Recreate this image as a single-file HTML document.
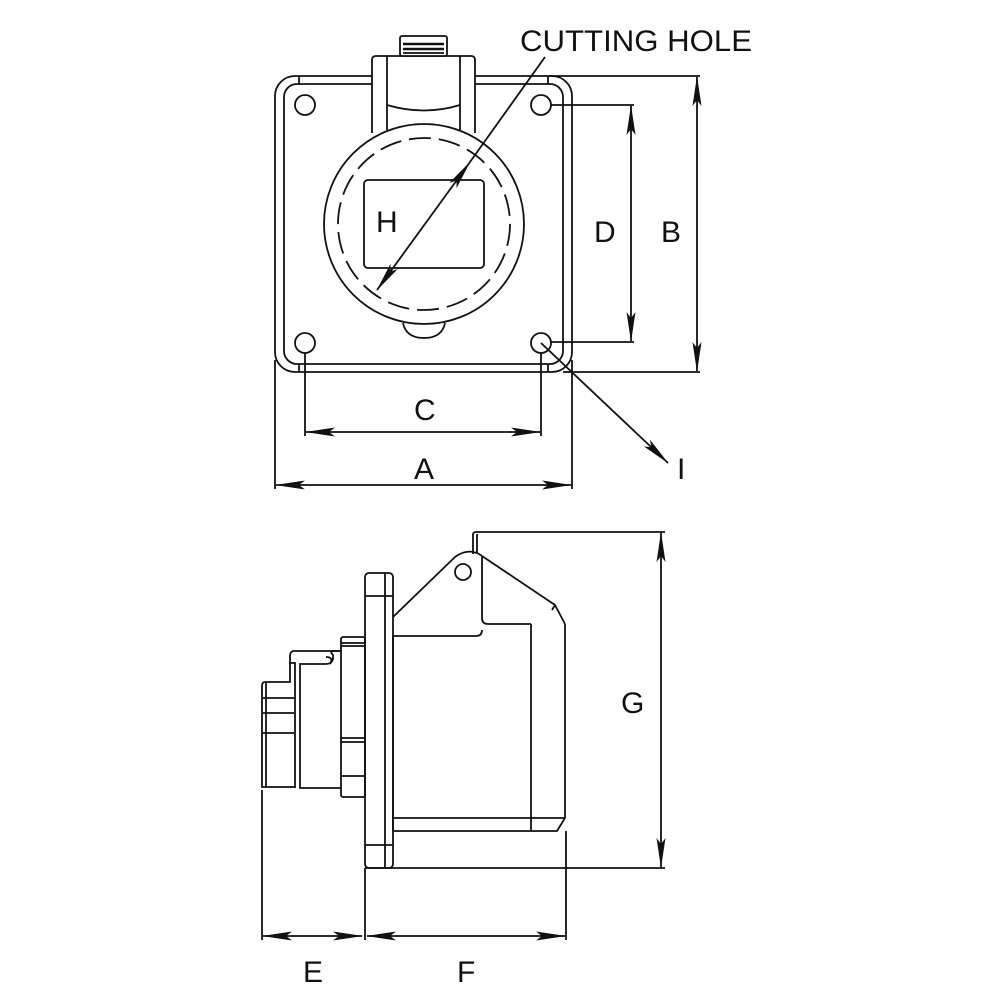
<!DOCTYPE html>
<html><head><meta charset="utf-8"><style>
html,body{margin:0;padding:0;background:#fff}
svg{display:block}
text{font-family:"Liberation Sans",sans-serif;fill:#111}
</style></head><body>
<svg width="1000" height="1000" viewBox="0 0 1000 1000" xmlns="http://www.w3.org/2000/svg">
<defs>
<marker id="ar" markerWidth="30" markerHeight="10" refX="29" refY="5" orient="auto-start-reverse" markerUnits="userSpaceOnUse">
<path d="M0,0.5 L30,5 L0,9.5 L6,5 Z" fill="#111"/>
</marker>
</defs>
<g fill="none" stroke="#111" stroke-width="1.8">
<!-- TOP VIEW -->
<rect x="275" y="76" width="297" height="296" rx="20"/>
<rect x="284" y="84" width="279" height="280" rx="13"/>
<line x1="299" y1="76" x2="299" y2="84"/><line x1="548" y1="76" x2="548" y2="84"/>
<line x1="299" y1="364" x2="299" y2="372"/><line x1="548" y1="364" x2="548" y2="372"/>
<circle cx="305" cy="105" r="10"/><circle cx="541" cy="105" r="10"/>
<circle cx="305" cy="343" r="10"/><circle cx="541" cy="343" r="10"/>
<!-- hinge housing -->
<path d="M372,133 L372,60 Q372,56 376,56 L471,56 Q475,56 475,60 L475,133 Z" fill="#fff" stroke="none"/>
<path d="M372,133 L372,60 Q372,56 376,56 L471,56 Q475,56 475,60 L475,133"/>
<line x1="387" y1="56" x2="387" y2="130"/><line x1="460" y1="56" x2="460" y2="130"/>
<path d="M387,105 Q424,116 460,105"/>
<rect x="400" y="36" width="47" height="20" rx="2" fill="#fff"/>
<line x1="403" y1="44" x2="444" y2="44" stroke-width="2.5"/>
<line x1="403" y1="49" x2="444" y2="49" stroke-width="2.5"/>
<line x1="403" y1="53" x2="444" y2="53"/>
<circle cx="424" cy="224" r="100" fill="#fff"/>
<circle cx="424" cy="224" r="86" stroke-dasharray="22,8"/>
<path d="M403,323 Q406,338 424,338 Q442,338 445,323"/>
<rect x="364" y="180" width="120" height="88" rx="4"/>
<!-- H dimension -->
<line x1="377" y1="290" x2="470" y2="162" marker-start="url(#ar)" marker-end="url(#ar)"/>
<line x1="470" y1="162" x2="545" y2="57"/>
<!-- B -->
<line x1="548" y1="76" x2="700" y2="76"/><line x1="563" y1="372" x2="700" y2="372"/>
<line x1="697" y1="77" x2="697" y2="371" marker-start="url(#ar)" marker-end="url(#ar)"/>
<!-- D -->
<line x1="551" y1="105" x2="634" y2="105"/><line x1="551" y1="342" x2="634" y2="342"/>
<line x1="631" y1="106" x2="631" y2="341" marker-start="url(#ar)" marker-end="url(#ar)"/>
<!-- C -->
<line x1="305" y1="353" x2="305" y2="436"/><line x1="541" y1="353" x2="541" y2="436"/>
<line x1="306" y1="432" x2="540" y2="432" marker-start="url(#ar)" marker-end="url(#ar)"/>
<!-- A -->
<line x1="275" y1="360" x2="275" y2="489"/><line x1="572" y1="360" x2="572" y2="489"/>
<line x1="276" y1="485" x2="571" y2="485" marker-start="url(#ar)" marker-end="url(#ar)"/>
<!-- I -->
<line x1="541" y1="343" x2="668" y2="463" marker-end="url(#ar)"/>

<!-- SIDE VIEW -->
<rect x="365" y="573" width="28" height="295" rx="4"/>
<line x1="385" y1="573" x2="385" y2="868"/>
<line x1="365" y1="596" x2="393" y2="596"/><line x1="365" y1="845" x2="393" y2="845"/>
<!-- lid -->
<path d="M393,617 L455,557 Q467,548 479,554 L555,605 L565,624"/>
<path d="M482,557 L482,618 Q482,624 488,624 L531,624"/>
<path d="M393,636 L476,636 Q482,636 482,630"/>
<line x1="555" y1="605" x2="552" y2="610"/>
<circle cx="463" cy="572" r="8"/>
<path d="M473,554 L473,535 Q473,532 476,532 L480,532"/>
<line x1="477" y1="534" x2="477" y2="553"/>
<!-- body -->
<line x1="393" y1="636" x2="393" y2="831"/>
<line x1="531" y1="624" x2="531" y2="831"/>
<line x1="565" y1="624" x2="565" y2="818"/>
<line x1="393" y1="818" x2="565" y2="818"/>
<path d="M393,831 L557,831 L565,818"/>
<!-- plug parts -->
<rect x="341" y="637" width="24" height="160" rx="2"/>
<line x1="341" y1="643" x2="365" y2="643"/><line x1="341" y1="646" x2="365" y2="646"/>
<line x1="341" y1="738" x2="365" y2="738"/><line x1="341" y1="742" x2="365" y2="742"/>
<line x1="341" y1="776" x2="365" y2="776"/>
<path d="M341,651 L332,651 Q330,652 333,655 Q334,664 326,664 L300,664 L300,788 L341,788"/>
<path d="M341,651 L293,651 Q290,652 290,656 L290,663 L295,663 L295,788"/>
<path d="M326,657 Q334,657 330,664"/>
<path d="M290,663 L290,682 L265,682 Q262,682 262,686 L262,787 L295,787"/>
<line x1="266" y1="682" x2="266" y2="787"/>
<line x1="263" y1="698" x2="294" y2="698"/><line x1="263" y1="713" x2="294" y2="713"/>
<line x1="263" y1="733" x2="294" y2="733"/>
<!-- G -->
<line x1="480" y1="532" x2="665" y2="532"/><line x1="365" y1="868" x2="665" y2="868"/>
<line x1="661" y1="533" x2="661" y2="867" marker-start="url(#ar)" marker-end="url(#ar)"/>
<!-- E F -->
<line x1="262" y1="790" x2="262" y2="940"/><line x1="365" y1="868" x2="365" y2="940"/>
<line x1="566" y1="831" x2="566" y2="940"/>
<line x1="263" y1="936" x2="362" y2="936" marker-start="url(#ar)" marker-end="url(#ar)"/>
<line x1="367" y1="936" x2="565" y2="936" marker-start="url(#ar)" marker-end="url(#ar)"/>
</g>
<g font-size="30">
<text x="520" y="51" font-size="30" textLength="232" lengthAdjust="spacingAndGlyphs">CUTTING HOLE</text>
<text x="376" y="232">H</text>
<text x="594" y="242">D</text>
<text x="661" y="242">B</text>
<text x="414" y="420">C</text>
<text x="414" y="479">A</text>
<text x="677" y="479">I</text>
<text x="621" y="713">G</text>
<text x="303" y="982">E</text>
<text x="457" y="982">F</text>
</g>
</svg>
</body></html>
